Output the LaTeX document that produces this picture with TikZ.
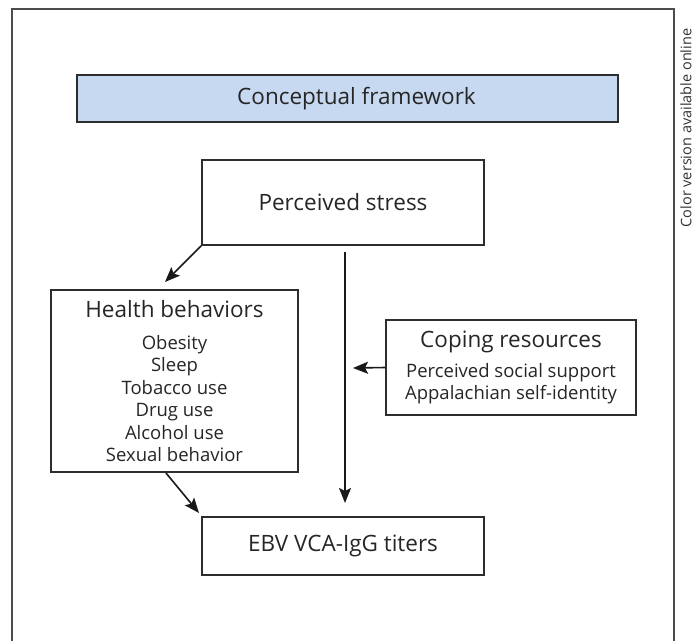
\documentclass[tikz,border=0pt]{standalone}
\usepackage{fontspec}
\setmainfont{Open Sans}
\usetikzlibrary{arrows.meta}
\definecolor{headblue}{RGB}{198,217,240}
\definecolor{boxline}{RGB}{45,45,45}
\newcommand{\ttl}{\fontsize{22.5}{26}\selectfont}
\begin{document}
\begin{tikzpicture}[
  x=1pt, y=-1pt,
  every node/.style={font=\fontsize{18.5}{22.4}\selectfont, text=black!85, inner sep=0pt},
  box/.style={draw=boxline, line width=1.6pt, align=center},
  head/.style={box, font=\ttl},
  conn/.style={draw=black!90, line width=1.6pt,
    -{Stealth[length=15pt,width=12pt,inset=3pt]}}
]
\useasboundingbox (0,0) rectangle (695,640);
\draw[line width=1.3pt, draw=black!70] (12,645) -- (12,9) -- (674,9) -- (674,645);
\node[rotate=90, font=\fontsize{14.5}{17}\selectfont, text=black!80] (note) at (686,128)
  {Color version available online};

\node[head, fill=headblue, minimum width=541pt, minimum height=47pt] (frame) at (347.5,98.5)
  {\hspace*{18pt}Conceptual framework};
\node[head, minimum width=282pt, minimum height=85pt] (stress) at (343,202.5)
  {Perceived stress};
\node[box, minimum width=247pt, minimum height=182pt] (health) at (174.5,381)
  {{\ttl Health behaviors}\\[9.6pt]
   Obesity\\ Sleep\\ Tobacco use\\ Drug use\\ Alcohol use\\ Sexual behavior};
\node[box, minimum width=250pt, minimum height=95pt] (coping) at (511,367.5)
  {{\ttl Coping resources}\\[7.6pt]
   Perceived social support\\ Appalachian self-identity};
\node[head, minimum width=282pt, minimum height=58pt] (ebv) at (343,546)
  {EBV VCA-IgG titers};

% free ends of the connectors
\coordinate (hb-in) at (165,282);
\coordinate (v-top) at (345,252);
\coordinate (v-mid) at (353,368);
\coordinate (v-end) at (345,503);
\coordinate (hb-out) at (166,473);
\coordinate (ebv-in) at (199,513);

\draw[conn] (stress.south west) -- (hb-in);
\draw[conn] (v-top) -- (v-end);
\draw[conn] (coping.west) -- (v-mid);
\draw[conn] (hb-out) -- (ebv-in);
\end{tikzpicture}
\end{document}
